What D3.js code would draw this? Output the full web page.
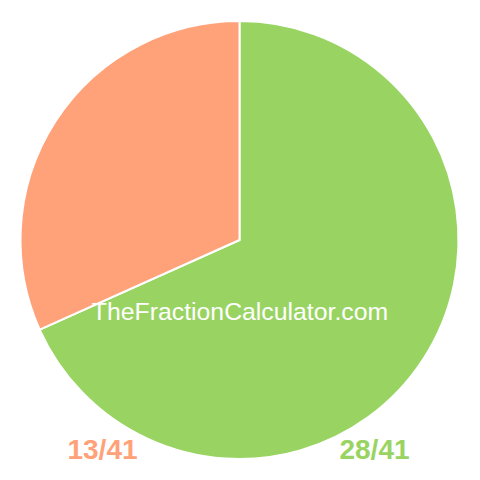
<!DOCTYPE html>
<html>
<head>
<meta charset="utf-8">
<script src="https://cdn.jsdelivr.net/npm/d3@7"></script>
<style>
  body { margin: 0; background: #fff; }
</style>
</head>
<body>
<svg></svg>
<script>
const labels = ["28/41", "13/41"];
const values = [28, 13];
const colors = ["#99d462", "#ffa279"];

const w = 480;
const h = 480;
const radius = 219;

let svg = d3.select("svg")
    .attr("width", w)
    .attr("height", h);

let pie = d3.pie()
    .sort(null)
    .value(d => d);

let arc = d3.arc()
    .innerRadius(0)
    .outerRadius(radius);

let g = svg.append("g")
    .attr("transform", "translate(239.5, 240)");

g.selectAll("path")
    .data(pie(values))
    .enter()
    .append("path")
    .attr("d", arc)
    .attr("fill", (d, i) => colors[i])
    .attr("stroke", "#fff")
    .attr("stroke-width", 2);

// watermark
svg.append("text")
    .attr("x", 240)
    .attr("y", 320)
    .attr("text-anchor", "middle")
    .attr("fill", "#fff")
    .style("font-family", "Liberation Sans, Arial, sans-serif")
    .style("font-size", "24.8px")
    .text("TheFractionCalculator.com");

// fraction labels under the pie
let labelX = [374.5, 102.5];

svg.selectAll(".label")
    .data(labels)
    .enter()
    .append("text")
    .attr("class", "label")
    .attr("x", (d, i) => labelX[i])
    .attr("y", 459)
    .attr("text-anchor", "middle")
    .attr("fill", (d, i) => colors[i])
    .style("font-family", "Liberation Sans, Arial, sans-serif")
    .style("font-weight", "bold")
    .style("font-size", "28px")
    .text(d => d);
</script>
</body>
</html>
